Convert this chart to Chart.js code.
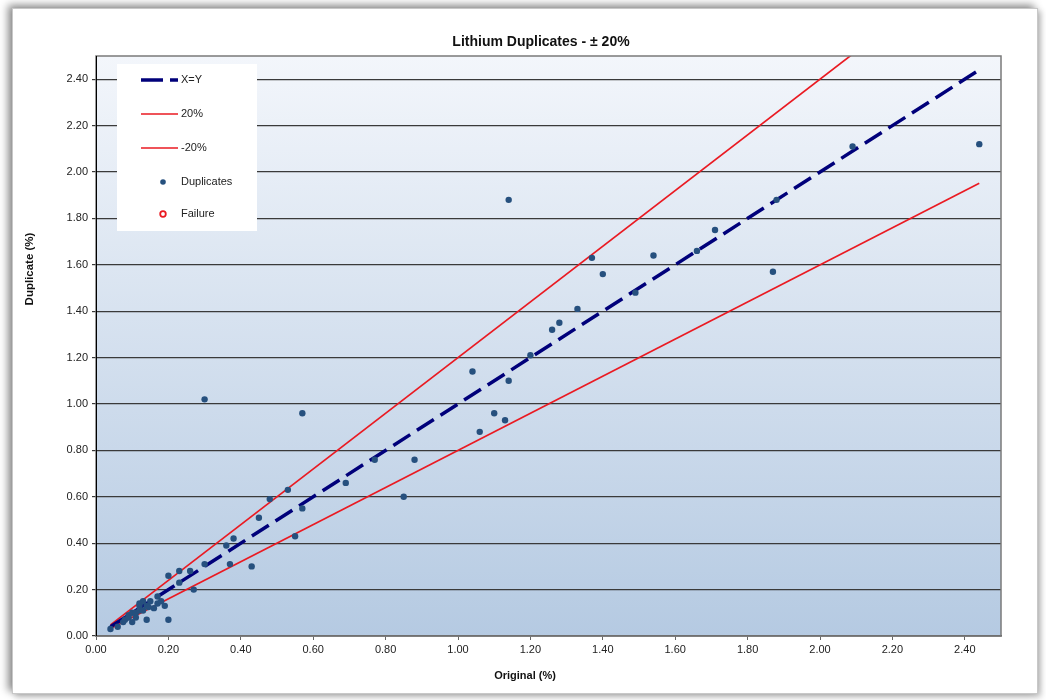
<!DOCTYPE html>
<html>
<head>
<meta charset="utf-8">
<script src="https://cdn.jsdelivr.net/npm/chart.js@4"></script>
<style>
  html, body { margin: 0; padding: 0; background: #fff; }
  #wrap { position: relative; width: 1046px; height: 700px; overflow: hidden; }
  #panel {
    position: absolute; left: 12px; top: 8px; width: 1024px; height: 684px;
    background: #fff; border: 1px solid #c8c8c8;
    box-shadow: -4px -3px 8px rgba(0,0,0,0.45), 3px 3px 6px rgba(0,0,0,0.25);
  }
  #chart { position: absolute; left: 0; top: 0; }
</style>
</head>
<body>
<div id="wrap">
  <div id="panel"></div>
  <canvas id="chart" width="1046" height="700"></canvas>
</div>
<script>
// original vs duplicate assays (%)
var origVals = [0.04, 0.06, 0.075, 0.08, 0.09, 0.09, 0.10, 0.10, 0.11, 0.11, 0.12, 0.12, 0.12, 0.13, 0.13,
  0.14, 0.14, 0.145, 0.15, 0.16, 0.17, 0.17, 0.18, 0.19, 0.20, 0.20, 0.23, 0.23, 0.26, 0.27, 0.30,
  0.30, 0.36, 0.37, 0.38, 0.43, 0.45, 0.48, 0.53, 0.55, 0.57, 0.57, 0.69, 0.77, 0.85, 0.88, 1.04,
  1.06, 1.10, 1.13, 1.14, 1.14, 1.20, 1.26, 1.28, 1.33, 1.37, 1.40, 1.49, 1.54, 1.66, 1.71, 1.87,
  1.88, 2.09, 2.44];
var dupVals = [0.03, 0.04, 0.06, 0.07, 0.09, 0.08, 0.10, 0.06, 0.08, 0.10, 0.13, 0.11, 0.14, 0.15, 0.11,
  0.13, 0.07, 0.125, 0.15, 0.12, 0.14, 0.17, 0.15, 0.13, 0.07, 0.26, 0.28, 0.23, 0.28, 0.20, 0.31,
  1.02, 0.39, 0.31, 0.42, 0.30, 0.51, 0.59, 0.63, 0.43, 0.55, 0.96, 0.66, 0.76, 0.60, 0.76, 1.14,
  0.88, 0.96, 0.93, 1.10, 1.88, 1.21, 1.32, 1.35, 1.41, 1.63, 1.56, 1.48, 1.64, 1.66, 1.75, 1.57,
  1.88, 2.11, 2.12];

var lineX = [0.04, 2.44];
var equalY = [0.04, 2.44];
var plus20Y = [0.048, 2.928];
var minus20Y = [0.032, 1.952];

var yTicks = ['0.00', '0.20', '0.40', '0.60', '0.80', '1.00', '1.20', '1.40', '1.60', '1.80', '2.00', '2.20', '2.40'];

var chartTitle = 'Lithium Duplicates - ± 20%';
var xTitle = 'Original (%)';
var yTitle = 'Duplicate (%)';

function pts(xs, ys) {
  return xs.map(function (x, i) { return { x: x, y: ys[i] }; });
}

var navy = '#00007a';
var red = '#ea1a22';
var dotBlue = '#26507e';
var fontFam = '"Liberation Sans", Arial, sans-serif';

var plotBg = {
  id: 'plotBg',
  beforeDraw: function (chart) {
    var a = chart.chartArea, ctx = chart.ctx;
    var g = ctx.createLinearGradient(0, a.top, 0, a.bottom);
    g.addColorStop(0, '#f3f6fb');
    g.addColorStop(1, '#b5cae2');
    ctx.save();
    ctx.fillStyle = g;
    ctx.fillRect(a.left, a.top, a.right - a.left, a.bottom - a.top);
    ctx.restore();
  },
  afterDraw: function (chart) {
    var a = chart.chartArea, ctx = chart.ctx;
    ctx.save();
    ctx.strokeStyle = '#7a7a7a';
    ctx.lineWidth = 1.5;
    ctx.strokeRect(a.left, a.top, a.right - a.left, a.bottom - a.top);
    ctx.strokeStyle = '#000';
    ctx.lineWidth = 1;
    ctx.beginPath();
    ctx.moveTo(a.left + 0.5, a.top);
    ctx.lineTo(a.left + 0.5, a.bottom);
    ctx.stroke();

    // titles
    ctx.fillStyle = '#111';
    ctx.textAlign = 'center';
    ctx.textBaseline = 'middle';
    ctx.font = 'bold 14px ' + fontFam;
    ctx.fillText(chartTitle, 541, 42);
    ctx.font = 'bold 11px ' + fontFam;
    ctx.fillText(xTitle, 525, 676);
    ctx.translate(30, 269);
    ctx.rotate(-Math.PI / 2);
    ctx.font = 'bold 11.5px ' + fontFam;
    ctx.fillText(yTitle, 0, 0);
    ctx.restore();
  }
};

// legend box inside the plot, like the spreadsheet one
var boxLegend = {
  id: 'boxLegend',
  afterDraw: function (chart) {
    var ctx = chart.ctx;
    var ds = chart.data.datasets;
    var rows = [80, 114, 148, 182, 214];
    ctx.save();
    ctx.fillStyle = '#fff';
    ctx.fillRect(117, 64, 140, 167);
    ctx.font = '11px ' + fontFam;
    ctx.textBaseline = 'middle';
    ds.forEach(function (d, i) {
      var y = rows[i];
      if (d.showLine) {
        ctx.strokeStyle = d.borderColor;
        ctx.lineWidth = d.borderWidth;
        ctx.setLineDash(d.borderDash ? [22, 7] : []);
        ctx.beginPath();
        ctx.moveTo(141, y);
        ctx.lineTo(178, y);
        ctx.stroke();
        ctx.setLineDash([]);
      } else {
        ctx.beginPath();
        ctx.arc(163, y, 2.8, 0, Math.PI * 2);
        ctx.fillStyle = d.backgroundColor;
        ctx.fill();
        if (d.borderWidth) {
          ctx.lineWidth = d.borderWidth;
          ctx.strokeStyle = d.borderColor;
          ctx.stroke();
        }
      }
      ctx.fillStyle = '#222';
      ctx.fillText(d.label, 181, y);
    });
    ctx.restore();
  }
};

var chart = new Chart(document.getElementById('chart'), {
  type: 'scatter',
  data: {
    datasets: [
      {
        label: 'X=Y', data: pts(lineX, equalY), showLine: true, borderColor: navy,
        borderWidth: 3.5, borderDash: [20, 8], pointRadius: 0, order: 2
      },
      {
        label: '20%', data: pts(lineX, plus20Y), showLine: true, borderColor: red,
        borderWidth: 1.7, pointRadius: 0, order: 3
      },
      {
        label: '-20%', data: pts(lineX, minus20Y), showLine: true, borderColor: red,
        borderWidth: 1.7, pointRadius: 0, order: 3
      },
      {
        label: 'Duplicates', data: pts(origVals, dupVals), backgroundColor: dotBlue,
        borderColor: dotBlue, borderWidth: 0, pointRadius: 3.2, order: 1
      },
      {
        label: 'Failure', data: [], backgroundColor: '#fff', borderColor: red,
        borderWidth: 1.8, pointRadius: 3.5, order: 0
      }
    ]
  },
  options: {
    responsive: false,
    animation: false,
    layout: { padding: { left: 20, right: 45, top: 56, bottom: 13 } },
    plugins: {
      legend: { display: false },
      tooltip: { enabled: false },
      title: { display: false }
    },
    scales: {
      x: {
        type: 'linear', min: 0, max: 2.5,
        afterFit: function (s) { s.height = 51; },
        ticks: {
          stepSize: 0.2, includeBounds: false, color: '#222', padding: 3,
          font: { family: fontFam, size: 11 },
          callback: function (v) { return v.toFixed(2); }
        },
        grid: { drawOnChartArea: false, tickLength: 4, color: '#666' },
        border: { color: '#555', width: 1.5 }
      },
      y: {
        type: 'linear', min: 0, max: 2.5,
        afterFit: function (s) { s.width = 76; },
        ticks: {
          stepSize: 0.2, includeBounds: false, color: '#222', padding: 4,
          font: { family: fontFam, size: 11 },
          callback: function (v, i) { return yTicks[i]; }
        },
        grid: { color: '#3a3a3a', lineWidth: 1.2, tickLength: 4 },
        border: { color: '#000', width: 1 }
      }
    }
  },
  plugins: [plotBg, boxLegend]
});
</script>
</body>
</html>
